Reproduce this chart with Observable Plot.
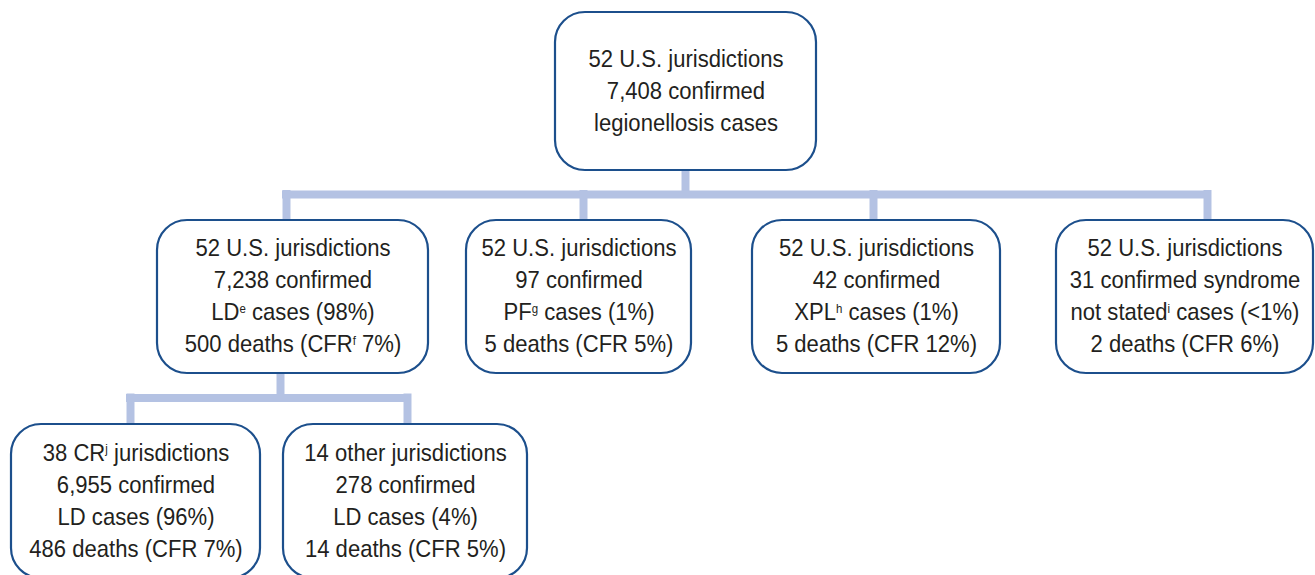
<!DOCTYPE html>
<html>
<head>
<meta charset="utf-8">
<script src="https://cdn.jsdelivr.net/npm/d3@7"></script>
<script src="https://cdn.jsdelivr.net/npm/@observablehq/plot@0.6"></script>
<style>
  html, body { margin: 0; padding: 0; background: #fff; }
  svg { display: block; }
</style>
</head>
<body>
<div id="chart"></div>
<script>
// ---- data ----
const nodeIds = ["all", "LD", "PF", "XPL", "NS", "CR", "other"];
const parentIds = [null, "all", "all", "all", "all", "LD", "LD"];
const jurisdictionLines = [
  "52 U.S. jurisdictions", "52 U.S. jurisdictions", "52 U.S. jurisdictions",
  "52 U.S. jurisdictions", "52 U.S. jurisdictions",
  "38 CR^j jurisdictions", "14 other jurisdictions"
];
const confirmedLines = [
  "7,408 confirmed", "7,238 confirmed", "97 confirmed", "42 confirmed",
  "31 confirmed syndrome", "6,955 confirmed", "278 confirmed"
];
const caseLines = [
  "legionellosis cases", "LD^e cases (98%)", "PF^g cases (1%)", "XPL^h cases (1%)",
  "not stated^i cases (<1%)", "LD cases (96%)", "LD cases (4%)"
];
const deathLines = [
  null, "500 deaths (CFR^f 7%)", "5 deaths (CFR 5%)", "5 deaths (CFR 12%)",
  "2 deaths (CFR 6%)", "486 deaths (CFR 7%)", "14 deaths (CFR 5%)"
];

// ---- layout (diagram geometry, pixel space) ----
const W = 1315, H = 575;
const layout = {
  all:   {x1: 555,  x2: 816,  y1: 12,  y2: 170, cx: 685},
  LD:    {x1: 157,  x2: 428,  y1: 220, y2: 373, cx: 286, cxDown: 280},
  PF:    {x1: 466,  x2: 691,  y1: 220, y2: 373, cx: 583},
  XPL:   {x1: 752,  x2: 1000, y1: 220, y2: 373, cx: 873},
  NS:    {x1: 1056, x2: 1313, y1: 220, y2: 373, cx: 1207},
  CR:    {x1: 11,   x2: 260,  y1: 424, y2: 578, cx: 130},
  other: {x1: 283,  x2: 527,  y1: 424, y2: 578, cx: 407}
};
const BAR = 8;
const SQUEEZE = 0.92; // condensed type

const nodes = nodeIds.map((id, i) => ({
  id, parent: parentIds[i],
  text: [jurisdictionLines[i], confirmedLines[i], caseLines[i], deathLines[i]].filter(d => d).join("\n"),
  ...layout[id]
}));

// connectors built from the hierarchy
const vRules = [], hRules = [];
for (const p of nodes) {
  const kids = nodes.filter(n => n.parent === p.id);
  if (!kids.length) continue;
  const top = d3.min(kids, k => k.y1);
  const barY = (p.y2 + top) / 2 - 1;
  const px = p.cxDown ?? p.cx;
  vRules.push({x: px, y1: p.y2, y2: barY});
  hRules.push({y: barY, x1: d3.min(kids, k => k.cx) - BAR / 2, x2: d3.max(kids, k => k.cx) + BAR / 2});
  for (const k of kids) vRules.push({x: k.cx, y1: barY - BAR / 2, y2: k.y1});
}

const font = "'Liberation Sans Narrow', 'Arial Narrow', 'Liberation Sans', Arial, sans-serif";

const chart = Plot.plot({
  width: W, height: H,
  margin: 0,
  x: {domain: [0, W], range: [0, W], axis: null},
  y: {domain: [0, H], range: [0, H], axis: null},
  style: {fontFamily: font, background: "#fff"},
  marks: [
    Plot.ruleX(vRules, {x: "x", y1: "y1", y2: "y2", stroke: "#b4c2e3", strokeWidth: BAR}),
    Plot.ruleY(hRules, {y: "y", x1: "x1", x2: "x2", stroke: "#b4c2e3", strokeWidth: BAR}),
    Plot.rect(nodes, {x1: "x1", x2: "x2", y1: "y1", y2: "y2", rx: 30, ry: 30,
      fill: "#fff", stroke: "#1c4f8c", strokeWidth: 2.2}),
    Plot.text(nodes, {
      x: d => (d.x1 + d.x2) / 2,
      y: d => (d.y1 + d.y2) / 2,
      dy: -3,
      text: "text", fontSize: 24, lineHeight: 1.333, fill: "#231f20",
      textAnchor: "middle", fontFamily: font
    })
  ]
});

// superscripts: replace ^x with a raised small tspan
chart.querySelectorAll("text, tspan").forEach(el => {
  if (el.children.length) return;
  const t = el.textContent;
  if (!t.includes("^")) return;
  el.textContent = "";
  const re = /\^(\w)/g;
  let last = 0, m;
  while ((m = re.exec(t))) {
    el.appendChild(document.createTextNode(t.slice(last, m.index)));
    const s = document.createElementNS("http://www.w3.org/2000/svg", "tspan");
    s.setAttribute("baseline-shift", "super");
    s.setAttribute("font-size", "0.52em");
    s.textContent = m[1];
    el.appendChild(s);
    last = re.lastIndex;
  }
  el.appendChild(document.createTextNode(t.slice(last)));
});

// condense the lettering horizontally around each label's anchor
chart.querySelectorAll("text").forEach(el => {
  if (!el.querySelector("tspan")) return;
  const tr = el.getAttribute("transform");
  if (tr) {
    el.setAttribute("transform", tr + ` scale(${SQUEEZE},1)`);
  } else {
    const x = +el.getAttribute("x") || 0, y = +el.getAttribute("y") || 0;
    el.setAttribute("transform", `translate(${x},${y}) scale(${SQUEEZE},1) translate(${-x},${-y})`);
  }
});

document.getElementById("chart").appendChild(chart);
</script>
</body>
</html>
